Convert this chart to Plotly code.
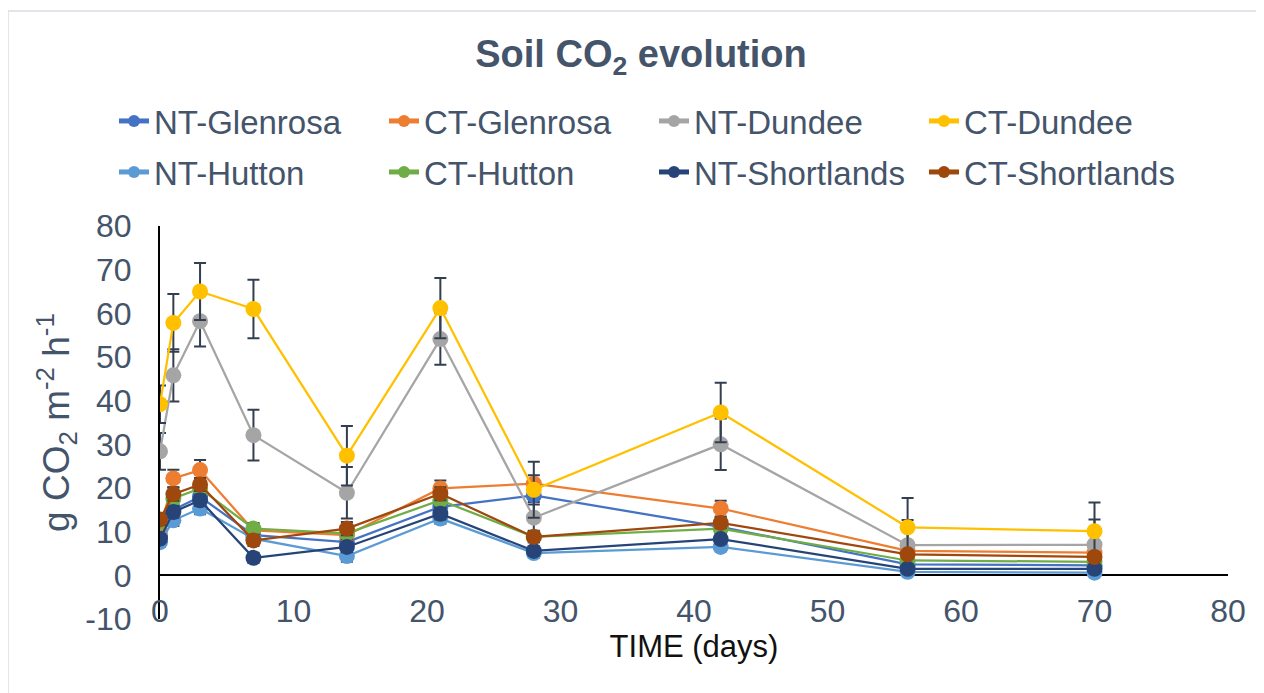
import plotly.graph_objects as go

days = [0, 1, 3, 7, 14, 21, 28, 42, 56, 70]

series_names = ["NT-Glenrosa", "CT-Glenrosa", "NT-Dundee", "CT-Dundee",
                "NT-Hutton", "CT-Hutton", "NT-Shortlands", "CT-Shortlands"]

nt_glenrosa = [9.0, 15.0, 18.0, 9.2, 7.6, 15.7, 18.3, 11.1, 2.5, 2.3]
ct_glenrosa = [10.3, 22.2, 24.1, 10.3, 9.2, 19.9, 21.0, 15.3, 5.6, 5.2]
nt_dundee = [28.4, 45.8, 58.2, 32.1, 18.9, 54.1, 13.2, 30.0, 6.9, 7.0]
ct_dundee = [39.2, 57.8, 65.0, 61.0, 27.4, 61.2, 19.6, 37.3, 11.0, 10.1]
nt_hutton = [7.6, 12.6, 15.3, 8.4, 4.4, 13.0, 5.1, 6.5, 0.8, 0.6]
ct_hutton = [12.2, 17.6, 19.9, 10.7, 9.6, 17.2, 8.8, 10.7, 3.4, 3.1]
nt_shortlands = [8.4, 14.5, 17.2, 4.0, 6.5, 14.1, 5.6, 8.3, 1.5, 1.5]
ct_shortlands = [12.8, 18.6, 20.8, 8.0, 10.7, 18.7, 8.8, 12.0, 4.8, 4.2]

err_nt_glenrosa = [1.2, 1.5, 1.5, 1.2, 1.2, 1.5, 1.5, 1.3, 0.8, 0.8]
err_ct_glenrosa = [1.5, 2.0, 2.3, 1.5, 1.5, 1.8, 1.9, 1.8, 1.0, 1.0]
err_nt_dundee = [4.2, 6.0, 5.8, 5.8, 5.9, 5.9, 3.0, 5.9, 5.8, 5.8]
err_ct_dundee = [4.3, 6.6, 6.5, 6.7, 6.8, 6.9, 6.4, 6.8, 6.7, 6.6]
err_nt_hutton = [1.0, 1.3, 1.3, 1.0, 1.3, 1.2, 1.0, 1.0, 0.6, 0.6]
err_ct_hutton = [1.3, 1.5, 1.5, 1.3, 1.3, 1.5, 1.2, 1.2, 0.8, 0.8]
err_nt_shortlands = [1.0, 1.3, 1.3, 1.2, 1.2, 1.3, 1.0, 1.0, 0.6, 0.6]
err_ct_shortlands = [1.3, 1.5, 1.5, 1.3, 1.5, 1.5, 1.2, 1.2, 0.8, 0.8]

y_tick_vals = [-10, 0, 10, 20, 30, 40, 50, 60, 70, 80]
y_tick_text = ["-10", "0", "10", "20", "30", "40", "50", "60", "70", "80"]
x_tick_vals = [0, 10, 20, 30, 40, 50, 60, 70, 80]

values = [nt_glenrosa, ct_glenrosa, nt_dundee, ct_dundee,
          nt_hutton, ct_hutton, nt_shortlands, ct_shortlands]
errors = [err_nt_glenrosa, err_ct_glenrosa, err_nt_dundee, err_ct_dundee,
          err_nt_hutton, err_ct_hutton, err_nt_shortlands, err_ct_shortlands]
colors = ["#4472C4", "#ED7D31", "#A5A5A5", "#FFC000",
          "#5B9BD5", "#70AD47", "#264478", "#9E480E"]

FONT = "Liberation Sans, Arial, sans-serif"
SLATE = "#44546A"
OFF = 8  # page body margin offset
W, H = 1264 - OFF, 693 - OFF
L, T = 160 - OFF, 226 - OFF
PW, PH = 1068, 393
R = W - L - PW
B = H - T - PH

# page-pixel -> paper coordinate helpers
px2x = lambda px: (px - OFF - L) / PW
py2y = lambda py: (H - B - (py - OFF)) / PH

fig = go.Figure()
for i, (name, vals, errs, col) in enumerate(zip(series_names, values, errors, colors)):
    fig.add_trace(go.Scatter(
        x=days, y=vals, name=name, mode="lines+markers",
        line=dict(color=col, width=2.25),
        marker=dict(color=col, size=16, symbol="circle"),
        error_y=dict(type="data", array=errs, visible=True,
                     color="#333F50", thickness=2, width=6),
        legend="legend" if i < 4 else "legend2",
    ))

legend_common = dict(
    orientation="h", xref="paper", yref="paper",
    xanchor="left", yanchor="middle",
    font=dict(family=FONT, size=33, color=SLATE),
    entrywidth=225, entrywidthmode="pixels",
    bgcolor="rgba(0,0,0,0)", itemsizing="constant",
)

fig.update_layout(
    width=W, height=H,
    margin=dict(l=L, r=R, t=T, b=B, autoexpand=False),
    paper_bgcolor="white", plot_bgcolor="white",
    title=dict(text="<b>Soil CO<sub>2</sub> evolution</b>",
               font=dict(family=FONT, size=38, color=SLATE),
               x=(641 - OFF) / W, xref="container", xanchor="center",
               y=1 - (54 - OFF) / H, yref="container", yanchor="middle"),
    legend=dict(x=px2x(114), y=py2y(121), **legend_common),
    legend2=dict(x=px2x(114), y=py2y(172), **legend_common),
    xaxis=dict(range=[0, 80], tickvals=x_tick_vals, showgrid=False, zeroline=False,
               showline=False, ticks="",
               tickfont=dict(family=FONT, size=32, color=SLATE),
               ticklabelstandoff=-30,
               title=dict(text="TIME (days)", font=dict(family=FONT, size=31, color="#111111"),
                          standoff=0)),
    yaxis=dict(range=[-10, 80], tickvals=y_tick_vals, ticktext=y_tick_text, showgrid=False,
               zeroline=True, zerolinecolor="black", zerolinewidth=2,
               showline=True, linecolor="black", linewidth=2, ticks="",
               tickfont=dict(family=FONT, size=32, color=SLATE),
               ticklabelstandoff=20,
               title=dict(text="g CO<sub>2</sub> m<sup>-2</sup> h<sup>-1</sup>",
                          font=dict(family=FONT, size=37, color=SLATE),
                          standoff=4)),
    showlegend=True,
)

# light outer chart border
fig.add_shape(type="rect", xref="paper", yref="paper",
              x0=px2x(8), x1=px2x(1264 + 20), y0=py2y(693 + 20), y1=py2y(11),
              line=dict(color="#D9DEE4", width=1.5), fillcolor="rgba(0,0,0,0)",
              layer="below")

fig.write_html("out.html")
